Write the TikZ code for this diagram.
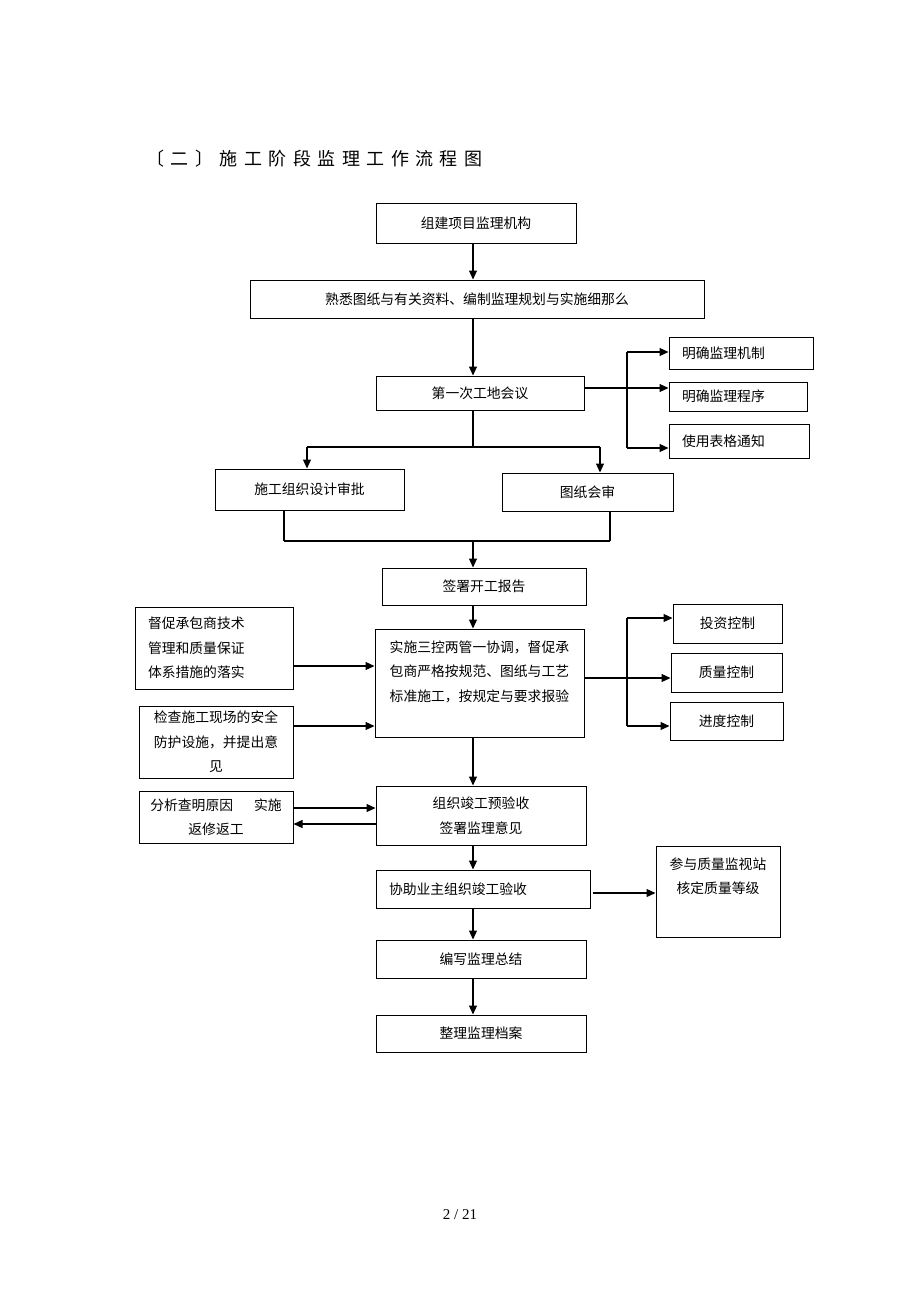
\documentclass[tikz,border=0pt]{standalone}
\usepackage{fontspec}
\usetikzlibrary{arrows.meta}
\newfontfamily\cjk{Noto Sans CJK SC}
\newfontfamily\titlefont[LetterSpace=36]{Noto Sans CJK SC}
\setmainfont{Liberation Serif}
\tikzset{
  box/.style={draw, line width=1pt, inner sep=0pt, align=center,
    font=\cjk\fontsize{13.8}{24.5}\selectfont},
  lbox/.style={box, align=left, inner xsep=13pt},
  txt/.style={inner sep=0pt, align=center, font=\cjk\fontsize{13.8}{24.5}\selectfont},
  arr/.style={-{Triangle[length=9pt,width=8pt]}, line width=1.2pt},
  link/.style={line width=1.2pt}
}
\begin{document}
\begin{tikzpicture}[x=1pt,y=-1pt]
  \useasboundingbox (0,0) rectangle (920,1302);
  \node[anchor=west, inner sep=0pt, font=\titlefont\fontsize{18}{18}\selectfont] (biaoti) at (146,159) {〔二〕施工阶段监理工作流程图};
  \node[box, minimum width=200, minimum height=40] (zujian) at (476,223) {组建项目监理机构};
  \node[box, minimum width=454, minimum height=38] (shuxi) at (477,299) {熟悉图纸与有关资料、编制监理规划与实施细那么};
  \node[box, minimum width=208, minimum height=34] (diyici) at (480,393) {第一次工地会议};
  \node[lbox, text width=118, minimum height=32] (jizhi) at (741,353) {明确监理机制};
  \node[lbox, text width=112, minimum height=29] (chengxu) at (738,396.5) {明确监理程序};
  \node[lbox, text width=114, minimum height=34] (biaoge) at (739,441) {使用表格通知};
  \node[box, minimum width=189, minimum height=41] (shenpi) at (309.5,489.5) {施工组织设计审批};
  \node[box, minimum width=171, minimum height=38] (huishen) at (587.5,492) {图纸会审};
  \node[box, minimum width=204, minimum height=37] (kaigong) at (484,586.5) {签署开工报告};
  \node[box, minimum width=209, minimum height=108] (shishi) at (479.5,683) {};
  \node[txt, anchor=north west, align=left] (shishitxt) at ([xshift=15pt,yshift=-12pt]shishi.north west) {实施三控两管一协调，督促承\\包商严格按规范、图纸与工艺\\标准施工，按规定与要求报验};
  \node[lbox, text width=132, minimum height=82] (duchu) at (214,648) {督促承包商技术\\管理和质量保证\\体系措施的落实};
  \node[box, minimum width=154, minimum height=72] (jiancha) at (216,742) {检查施工现场的安全\\防护设施，并提出意\\见};
  \node[box, minimum width=109, minimum height=39] (touzi) at (727.5,623.5) {投资控制};
  \node[box, minimum width=111, minimum height=39] (zhiliang) at (726.5,672.5) {质量控制};
  \node[box, minimum width=113, minimum height=38] (jindu) at (726.5,721) {进度控制};
  \node[box, minimum width=210, minimum height=59] (yanshou) at (481,815.5) {组织竣工预验收\\签署监理意见};
  \node[box, minimum width=154, minimum height=52] (fenxi) at (216,817) {分析查明原因\hspace{21pt}实施\\返修返工};
  \node[lbox, text width=188, minimum height=38] (xiezhu) at (483,889) {协助业主组织竣工验收};
  \node[box, minimum width=124, minimum height=91] (canyu) at (718,891.5) {};
  \node[txt, anchor=north] (canyutxt) at ([yshift=-12pt]canyu.north) {参与质量监视站\\核定质量等级};
  \node[box, minimum width=210, minimum height=38] (zongjie) at (481,959) {编写监理总结};
  \node[box, minimum width=210, minimum height=37] (dangan) at (481,1033.5) {整理监理档案};
  \node[inner sep=0pt, font=\fontsize{15}{15}\selectfont] (yema) at (460,1215) {2 / 21};
  \coordinate (spine) at (473,0);
  \coordinate (forkl) at (307,447);
  \coordinate (forkr) at (600,447);
  \coordinate (joinl) at (284,541);
  \coordinate (joinr) at (610,541);
  \coordinate (b1top) at (627,352);
  \coordinate (b1bot) at (627,448);
  \coordinate (b2top) at (627,618);
  \coordinate (b2bot) at (627,726);
  \begin{scope}[arr]
    \draw (zujian.south -| spine) to (shuxi.north -| spine);
    \draw (shuxi.south -| spine) to (diyici.north -| spine);
    \draw ([yshift=5pt]diyici.east) to ([yshift=5pt]diyici.east -| chengxu.west);
    \draw (b1top) to (b1top -| jizhi.west);
    \draw (b1bot) to (b1bot -| biaoge.west);
    \draw (forkl) to (forkl |- shenpi.north);
    \draw (forkr) to (forkr |- huishen.north);
    \draw (spine |- joinl) to (kaigong.north -| spine);
    \draw (kaigong.south -| spine) to (shishi.north -| spine);
    \draw ([yshift=-18pt]duchu.east) to ([yshift=-18pt]duchu.east -| shishi.west);
    \draw ([yshift=16pt]jiancha.east) to ([yshift=16pt]jiancha.east -| shishi.west);
    \draw ([yshift=5pt]shishi.east) to ([yshift=5pt]shishi.east -| zhiliang.west);
    \draw (b2top) to (b2top -| touzi.west);
    \draw (b2bot) to (b2bot -| jindu.west);
    \draw (shishi.south -| spine) to (yanshou.north -| spine);
    \draw ([yshift=9pt]fenxi.east) to ([yshift=9pt]fenxi.east -| yanshou.west);
    \draw ([yshift=-8.5pt]yanshou.west) to ([yshift=-8.5pt]yanshou.west -| fenxi.east);
    \draw (yanshou.south -| spine) to (xiezhu.north -| spine);
    \draw ([xshift=2pt,yshift=-4pt]xiezhu.east) to ([yshift=-4pt]xiezhu.east -| canyu.west);
    \draw (xiezhu.south -| spine) to (zongjie.north -| spine);
    \draw (zongjie.south -| spine) to (dangan.north -| spine);
  \end{scope}
  \begin{scope}[link]
    \draw (b1top) to (b1bot);
    \draw (b2top) to (b2bot);
    \draw (diyici.south -| spine) to (spine |- forkl);
    \draw (forkl) to (forkr);
    \draw (shenpi.south -| joinl) to (joinl);
    \draw (joinl) to (joinr);
    \draw (huishen.south -| joinr) to (joinr);
  \end{scope}
\end{tikzpicture}
\end{document}
